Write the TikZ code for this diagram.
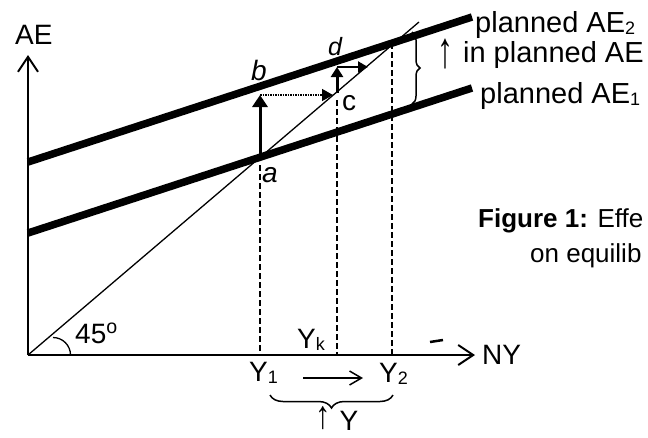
\documentclass[tikz,border=0pt]{standalone}
\usepackage{fontspec}
\setmainfont{Liberation Sans}
\usetikzlibrary{arrows.meta,decorations.pathreplacing}
\newcommand\sbs[1]{\raisebox{-2pt}{\fontsize{18}{18}\selectfont #1}}
\newcommand\uparr[2][0pt]{\raisebox{#1}[0pt][0pt]{\scalebox{1.1}[#2]{↑}}}
\begin{document}
\begin{tikzpicture}[x=1pt,y=-1pt,
  every node/.style={inner sep=0pt, font=\fontsize{28}{32}\selectfont},
  lbl/.style={anchor=base west},
  side/.style={font=\fontsize{29}{33}\selectfont},
  caption/.style={font=\fontsize{26}{30}\selectfont},
  axis/.style={line width=2.4pt,-{Straight Barb[length=15pt,width=20pt,line width=2pt]}},
  aeline/.style={line width=7.5pt},
  guide/.style={line width=1.8pt,dash pattern=on 6pt off 3pt},
  thin45/.style={line width=1.3pt},
  moveup/.style={line width=3pt,-{Triangle[length=12pt,width=15pt]}},
  moveright/.style={line width=1.5pt,densely dotted,-{Triangle[length=11pt,width=12pt]}},
  smallup/.style={line width=3pt,-{Triangle[length=10pt,width=12pt]}},
  smallright/.style={line width=2.2pt,-{Triangle[length=10pt,width=11pt]}},
  yshiftarrow/.style={line width=1.5pt,-{Straight Barb[length=12pt,width=14pt,line width=1.5pt]}},
  curly/.style={decorate,decoration={brace,amplitude=#1},line width=1.5pt}
]
\useasboundingbox (0,0) rectangle (648,437);
% points
\coordinate (O) at (28,355);
\coordinate (Ytop) at (28,55);
\coordinate (Xend) at (475,355);
\coordinate (P2L) at (28,162);
\coordinate (P2R) at (472,17);
\coordinate (P1L) at (28,233);
\coordinate (P1R) at (472,88);
\coordinate (Ltop) at (419,22);
\coordinate (A) at (260,157);
\coordinate (B) at (260,95);
\coordinate (C) at (333,95);
\coordinate (C2) at (337,93);
\coordinate (D) at (337,67);
\coordinate (D2) at (368,67);
\coordinate (Y1a) at (260,165);
\coordinate (Y1b) at (260,355);
\coordinate (Yka) at (337,100);
\coordinate (Ykb) at (337,355);
\coordinate (Y2a) at (392,43);
\coordinate (Y2b) at (392,355);
\coordinate (S1) at (303,378);
\coordinate (S2) at (363,378);
\coordinate (BrT) at (412,32);
\coordinate (BrB) at (412,104);
\coordinate (BbR) at (393,395);
\coordinate (BbL) at (270,395);
\coordinate (M1) at (430,342);
\coordinate (M2) at (443,340);
% guides
\draw[guide] (Y1a) -- (Y1b);
\draw[guide] (Yka) -- (Ykb);
\draw[guide] (Y2a) -- (Y2b);
% 45 degree line and angle
\draw[thin45] (O) -- (Ltop);
\draw[line width=1.3pt] (53,337.5) arc (-90:0:17.5);
% planned AE lines
\draw[aeline] (P2L) -- (P2R);
\draw[aeline] (P1L) -- (P1R);
% axes
\draw[axis] (O) -- (Ytop);
\draw[axis] (O) -- (Xend);
\draw[line width=2.5pt] (M1) -- (M2);
% adjustment arrows
\draw[moveup] (A) -- (B);
\draw[moveright] (B) -- (C);
\draw[smallup] (C2) -- (D);
\draw[smallright] (D) -- (D2);
\draw[yshiftarrow] (S1) -- (S2);
% braces
\draw[curly=8pt] (BrT) -- (BrB);
\draw[curly=13pt] (BbR) -- (BbL);
% labels
\node[lbl] (tAE) at (15,44) {AE};
\node[lbl] (tNY) at (482,364) {NY};
\node[lbl] (ta) at (262,182) {\textit{a}};
\node[lbl] (tb) at (251,80) {\textit{b}};
\node[lbl] (tc) at (342,110) {c};
\node[lbl,font=\fontsize{25}{28}\selectfont] (td) at (328,55) {\textit{d}};
\node[lbl] (tY1) at (249,381) {Y\sbs{1}};
\node[lbl] (tYk) at (297,348) {Y\sbs{k}};
\node[lbl] (tY2) at (379,382) {Y\sbs{2}};
\node[lbl] (tdY) at (315,430) {\uparr[2pt]{1.4}\hspace{9pt}Y};
\node[lbl] (t45) at (75,343) {45\textsuperscript{o}};
\node[lbl,side] (tAE2) at (475,32) {planned AE\sbs{2}};
\node[lbl,side] (tinc) at (437,62) {\uparr[-5pt]{1.75}\hspace{10pt}in planned AE};
\node[lbl,side] (tAE1) at (480,103) {planned AE\sbs{1}};
\node[lbl,caption] (cap1) at (478,227) {\textbf{Figure 1:} Effe};
\node[lbl,caption] (cap2) at (530,262) {on equilib};
\end{tikzpicture}
\end{document}
